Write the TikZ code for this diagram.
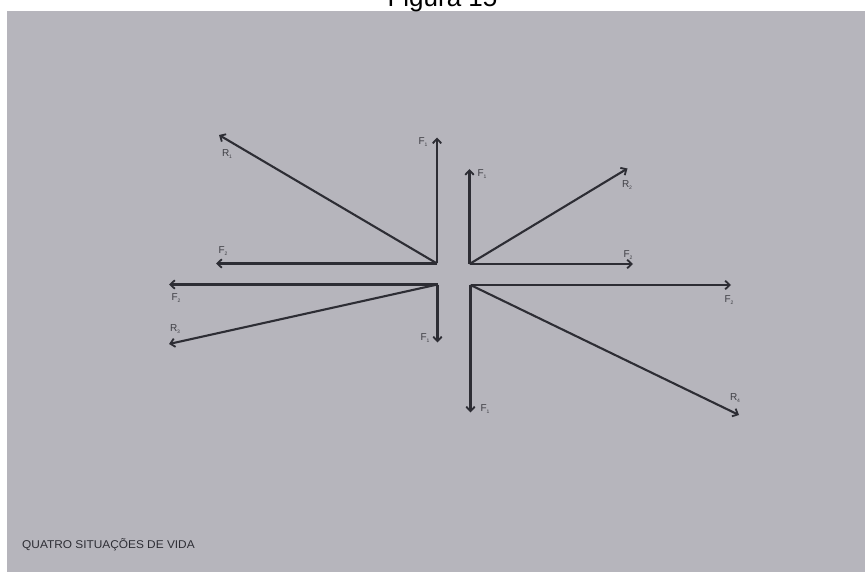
\documentclass[tikz,border=0pt]{standalone}
\usepackage{fontspec}
\setmainfont{Liberation Sans}
\usetikzlibrary{arrows.meta}
\definecolor{paper}{RGB}{182,181,188}
\definecolor{ink}{RGB}{45,45,52}
\definecolor{labink}{RGB}{62,62,68}
\newcommand\lbl[2]{#1\raisebox{-0.35ex}{\fontsize{5}{5}\selectfont #2}}
\tikzset{
  vec/.style={draw=ink, line width=2.1pt, -{Straight Barb[length=4.5pt,width=8.5pt,line width=1.8pt]}},
  lab/.style={text=labink, font=\fontsize{10}{10}\selectfont, inner sep=0pt},
}
\begin{document}
\begin{tikzpicture}[x=1pt,y=-1pt]
\useasboundingbox (0,0) rectangle (865,572);
\fill[paper] (7,11) rectangle (865,572);
\node[anchor=base, font=\fontsize{26}{26}\selectfont, inner sep=0pt] (title) at (442.5,7) {Figura 15};
% quadrant origins
\coordinate (o1) at (437,263.5);
\coordinate (o2) at (469.5,264);
\coordinate (o3) at (437.5,284.5);
\coordinate (o4) at (470.5,285);
% tips
\coordinate (t1v) at (437,137.5);
\coordinate (t1h) at (216,263.5);
\coordinate (t1r) at (219,135);
\coordinate (t2v) at (469.5,169);
\coordinate (t2h) at (633,264);
\coordinate (t2r) at (627.5,168.5);
\coordinate (t3v) at (437.5,342.5);
\coordinate (t3h) at (169,284.5);
\coordinate (t3r) at (169,344);
\coordinate (t4v) at (470.5,412.5);
\coordinate (t4h) at (731,285);
\coordinate (t4r) at (739,415);
% vectors
\draw[vec] (o1) -- (t1v);
\draw[vec] (o1) -- (t1h);
\draw[vec] (o1) -- (t1r);
\draw[vec] (o2) -- (t2v);
\draw[vec] (o2) -- (t2h);
\draw[vec] (o2) -- (t2r);
\draw[vec] (o3) -- (t3v);
\draw[vec] (o3) -- (t3h);
\draw[vec] (o3) -- (t3r);
\draw[vec] (o4) -- (t4v);
\draw[vec] (o4) -- (t4h);
\draw[vec] (o4) -- (t4r);
% labels
\node[lab] (l1v) at (423,142) {\lbl{F}{1}};
\node[lab] (l1h) at (223,251) {\lbl{F}{2}};
\node[lab] (l1r) at (227,154) {\lbl{R}{1}};
\node[lab] (l2v) at (482,174) {\lbl{F}{1}};
\node[lab] (l2h) at (628,255) {\lbl{F}{2}};
\node[lab] (l2r) at (627,185) {\lbl{R}{2}};
\node[lab] (l3v) at (425,338) {\lbl{F}{1}};
\node[lab] (l3h) at (176,298) {\lbl{F}{2}};
\node[lab] (l3r) at (175,329) {\lbl{R}{3}};
\node[lab] (l4v) at (485,409) {\lbl{F}{1}};
\node[lab] (l4h) at (729,300) {\lbl{F}{2}};
\node[lab] (l4r) at (735,398) {\lbl{R}{4}};
\node[anchor=west, text=ink, font=\fontsize{11.3}{11.3}\selectfont, inner sep=0pt, xscale=1.05] (cap) at (22,545) {QUATRO SITUAÇÕES DE VIDA};
\end{tikzpicture}
\end{document}
